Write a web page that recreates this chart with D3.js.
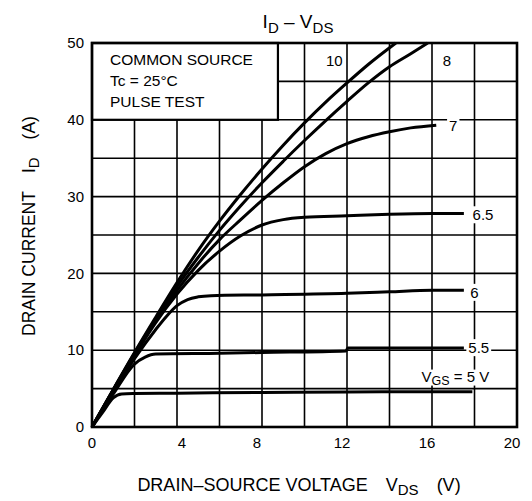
<!DOCTYPE html>
<html>
<head>
<meta charset="utf-8">
<script src="https://d3js.org/d3.v7.min.js"></script>
<style>
  body { margin: 0; background: #fff; }
  text { font-family: "Liberation Sans", Arial, sans-serif; fill: #000; }
</style>
</head>
<body>
<script>
// I-V curves: [V_DS (V), I_D (A)]
var vgs10 = [[0,0],[1,4.9],[2,9.7],[3,14.3],[4,18.8],[5,23],[6,26.8],[7,30.3],[8,33.6],[9,36.7],[10,39.6],[11,42.3],[12,44.8],[13,47.2],[14.3,50]];
var vgs8 = [[0,0],[1,4.85],[2,9.6],[3,14.1],[4,18.3],[5,22.1],[6,25.6],[7,28.8],[8,31.8],[9,34.6],[10,37.3],[11,39.9],[12,42.4],[13,44.8],[14,46.9],[15,48.6],[15.8,50]];
var vgs7 = [[0,0],[1,4.8],[2,9.5],[3,13.9],[4,17.8],[5,21.3],[6,24.4],[7,27],[8,29.5],[9,31.8],[10,33.9],[11,35.6],[12,36.9],[13,37.8],[14,38.45],[15,38.95],[16.2,39.3]];
var vgs65 = [[0,0],[1,4.8],[2,9.3],[3,13.6],[4,17.3],[5,20.4],[6,22.9],[7,24.9],[8,26.3],[9,27],[10,27.3],[12,27.5],[14,27.7],[16,27.8],[17.5,27.8]];
var vgs6 = [[0,0],[1,4.6],[2,8.9],[3,12.7],[3.5,14.4],[4,15.8],[4.5,16.6],[5,16.95],[5.6,17.1],[8,17.2],[12,17.4],[14,17.6],[16,17.8],[17.5,17.8]];
var vgs55 = [[0,0],[1,4.3],[2,8.2],[2.5,9.1],[3,9.5],[6,9.6],[8,9.7],[11.95,9.9],[12.05,10.3],[17.5,10.3]];
var vgs5 = [[0,0],[0.5,1.9],[1,3.8],[1.4,4.3],[2,4.35],[4,4.4],[8,4.5],[12,4.55],[16,4.6],[17.9,4.6]];

var curves = [vgs10, vgs8, vgs7, vgs65, vgs6, vgs55, vgs5];
var curveLabels = ["10", "8", "7", "6.5", "6", "5.5", "5"];

var xGrid = [0, 2, 4, 6, 8, 10, 12, 14, 16, 18, 20];
var yGrid = [0, 5, 10, 15, 20, 25, 30, 35, 40, 45, 50];
var xTickLabels = [0, 4, 8, 12, 16, 20];
var yTickLabels = [0, 10, 20, 30, 40, 50];
var legendLines = ["COMMON SOURCE", "Tc = 25°C", "PULSE TEST"];

var W = 532, H = 501;
var svg = d3.select("body").append("svg").attr("width", W).attr("height", H);

var x = d3.scaleLinear().domain([0, 20]).range([92, 517]);
var y = d3.scaleLinear().domain([0, 50]).range([427, 43]);

// grid
svg.append("g").selectAll("line").data(xGrid).enter().append("line")
  .attr("x1", function (d) { return x(d); }).attr("x2", function (d) { return x(d); })
  .attr("y1", y(0)).attr("y2", y(50))
  .attr("stroke", "#000").attr("stroke-width", 1.6);
svg.append("g").selectAll("line").data(yGrid).enter().append("line")
  .attr("y1", function (d) { return y(d); }).attr("y2", function (d) { return y(d); })
  .attr("x1", x(0)).attr("x2", x(20))
  .attr("stroke", "#000").attr("stroke-width", 1.6);

// legend box
var lg = svg.append("g");
lg.append("rect")
  .attr("x", x(0)).attr("y", y(50))
  .attr("width", x(8.75) - x(0)).attr("height", y(40) - y(50))
  .attr("fill", "#fff").attr("stroke", "#000").attr("stroke-width", 2.2);
lg.selectAll("text").data(legendLines).enter().append("text")
  .attr("x", 110).attr("y", function (d, i) { return 65 + i * 21; })
  .style("font-size", "15.5px")
  .text(function (d) { return d; });

// curves
var line = d3.line()
  .x(function (d) { return x(d[0]); })
  .y(function (d) { return y(d[1]); })
  .curve(d3.curveMonotoneX);

svg.append("g").selectAll("path").data(curves).enter().append("path")
  .attr("d", line)
  .attr("fill", "none").attr("stroke", "#000").attr("stroke-width", 3)
  .attr("stroke-linejoin", "round");

// curve labels with white backing
var labelPos = [[11.4, 47.7], [16.7, 47.7], [17, 39.2], [18.4, 27.6], [18, 17.5], [18.2, 10.3]];
var labs = svg.append("g");
labelPos.forEach(function (p, i) {
  var t = labs.append("text")
    .attr("x", x(p[0])).attr("y", y(p[1]))
    .attr("dy", "0.35em")
    .attr("text-anchor", "middle")
    .style("font-size", "15px")
    .text(curveLabels[i]);
  var b = t.node().getBBox();
  labs.insert("rect", "text")
    .attr("x", b.x - 2).attr("y", b.y).attr("width", b.width + 4).attr("height", b.height)
    .attr("fill", "#fff");
});
var vg = labs.append("text")
  .attr("x", x(17.1)).attr("y", y(6.6)).attr("dy", "0.35em")
  .attr("text-anchor", "middle")
  .style("font-size", "15px");
vg.append("tspan").text("V");
vg.append("tspan").attr("dy", 3).style("font-size", "12.5px").text("GS");
vg.append("tspan").attr("dy", -3).text(" = " + curveLabels[6] + " V");
var vb = vg.node().getBBox();
labs.insert("rect", "text")
  .attr("x", vb.x - 2).attr("y", vb.y + 2).attr("width", vb.width + 4).attr("height", vb.height - 4)
  .attr("fill", "#fff");

// frame
svg.append("rect")
  .attr("x", x(0)).attr("y", y(50))
  .attr("width", x(20) - x(0)).attr("height", y(0) - y(50))
  .attr("fill", "none").attr("stroke", "#000").attr("stroke-width", 2.6);

// tick labels
svg.append("g").selectAll("text").data(xTickLabels).enter().append("text")
  .attr("x", function (d) { return x(d) + (d === 4 ? 5 : d >= 8 ? -5 : 0); })
  .attr("y", 448)
  .attr("text-anchor", "middle")
  .style("font-size", "15px")
  .text(function (d) { return d; });
svg.append("g").selectAll("text").data(yTickLabels).enter().append("text")
  .attr("x", 84)
  .attr("y", function (d) { return y(d); })
  .attr("dy", "0.35em")
  .attr("text-anchor", "end")
  .style("font-size", "15px")
  .text(function (d) { return d; });

// title
var title = svg.append("text")
  .attr("x", 298).attr("y", 28)
  .attr("text-anchor", "middle")
  .style("font-size", "19px");
title.append("tspan").text("I");
title.append("tspan").attr("dy", 5).style("font-size", "15px").text("D");
title.append("tspan").attr("dy", -5).text(" \u2013 V");
title.append("tspan").attr("dy", 5).style("font-size", "15px").text("DS");

// x axis title
var xt = svg.append("text")
  .attr("x", 299).attr("y", 491)
  .attr("text-anchor", "middle")
  .style("font-size", "18px");
xt.append("tspan").text("DRAIN\u2013SOURCE VOLTAGE");
xt.append("tspan").attr("dx", 18).text("V");
xt.append("tspan").attr("dy", 4).style("font-size", "15px").text("DS");
xt.append("tspan").attr("dy", -4).attr("dx", 18).text("(V)");

// y axis title
var yt = svg.append("text")
  .attr("transform", "translate(35,226) rotate(-90)")
  .attr("text-anchor", "middle")
  .style("font-size", "17.5px");
yt.append("tspan").text("DRAIN CURRENT");
yt.append("tspan").attr("dx", 18).text("I");
yt.append("tspan").attr("dy", 4).style("font-size", "15px").text("D");
yt.append("tspan").attr("dy", -4).attr("dx", 18).text("(A)");
</script>
</body>
</html>
